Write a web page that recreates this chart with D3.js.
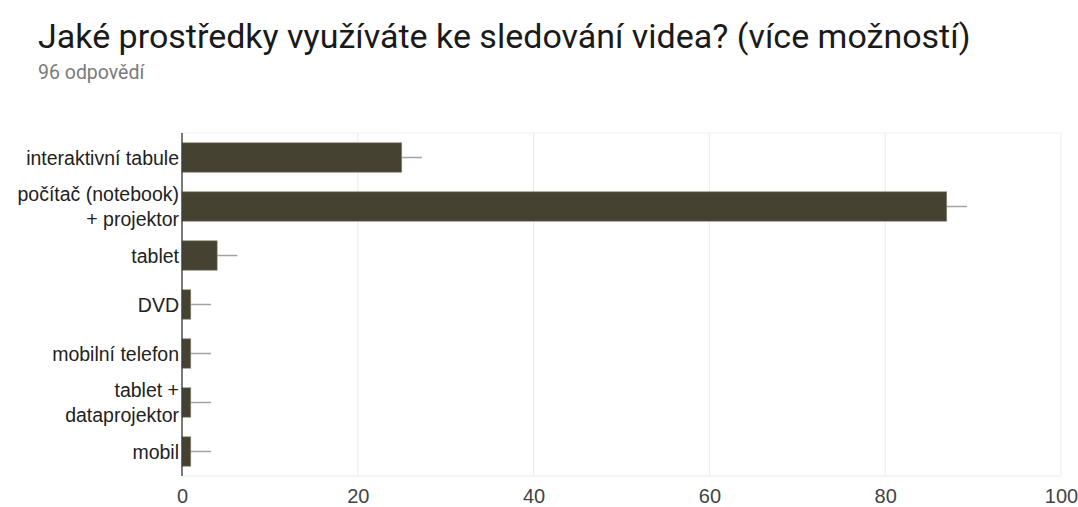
<!DOCTYPE html>
<html lang="cs">
<head>
    <meta charset="UTF-8">
    <title>Sledování videa</title>
    <style>
        body { margin: 0; background: #fff; }
        svg text { font-family: "Liberation Sans", Arial, sans-serif; }
    </style>
    <script src="https://d3js.org/d3.v7.min.js"></script>
</head>
<body>
    <div id="chart"></div>
    <script>
        // data
        const categories = [
            "interaktivní tabule",
            "počítač (notebook)\n+ projektor",
            "tablet",
            "DVD",
            "mobilní telefon",
            "tablet +\ndataprojektor",
            "mobil"
        ]
        const counts = [25, 87, 4, 1, 1, 1, 1]
        const whiskers = [2.3, 2.3, 2.3, 2.3, 2.3, 2.3, 2.3]
        const xTicks = [0, 20, 40, 60, 80, 100]

        const W = 1078, H = 507
        const margin = {top: 133, right: 17, bottom: 31, left: 182}

        const svg = d3.select("#chart").append("svg")
            .attr("width", W).attr("height", H)

        // title + subtitle
        svg.append("text")
            .attr("x", 38).attr("y", 48)
            .style("font-family", "Roboto, sans-serif")
            .style("font-size", "34px")
            .attr("fill", "#1a1a1a")
            .text("Jaké prostředky využíváte ke sledování videa? (více možností)")
        svg.append("text")
            .attr("x", 38).attr("y", 79)
            .style("font-family", "Roboto, sans-serif")
            .style("font-size", "19.5px")
            .attr("fill", "#7a7a7a")
            .text("96 odpovědí")

        const x = d3.scaleLinear()
            .domain([0, 100])
            .range([margin.left, W - margin.right])

        const y = d3.scaleBand()
            .domain(categories)
            .range([margin.top, H - margin.bottom])
            .paddingInner(0.4)
            .paddingOuter(0.2)

        // grid
        svg.append("g")
            .selectAll("line")
            .data(xTicks.slice(1))
            .join("line")
            .attr("x1", d => x(d)).attr("x2", d => x(d))
            .attr("y1", margin.top).attr("y2", H - margin.bottom)
            .attr("stroke", "#ebebeb").attr("stroke-width", 1)
        svg.append("line")
            .attr("x1", margin.left).attr("x2", W - margin.right)
            .attr("y1", margin.top).attr("y2", margin.top)
            .attr("stroke", "#f0f0f0")
        svg.append("line")
            .attr("x1", margin.left).attr("x2", W - margin.right)
            .attr("y1", H - margin.bottom).attr("y2", H - margin.bottom)
            .attr("stroke", "#ebebeb")

        const rows = categories.map((c, i) => ({name: c, value: counts[i], err: whiskers[i]}))

        // whiskers
        svg.append("g")
            .selectAll("line")
            .data(rows)
            .join("line")
            .attr("x1", d => x(d.value)).attr("x2", d => x(d.value + d.err))
            .attr("y1", d => y(d.name) + y.bandwidth() / 2)
            .attr("y2", d => y(d.name) + y.bandwidth() / 2)
            .attr("stroke", "#a3a3a3").attr("stroke-width", 1.5)

        // bars
        svg.append("g")
            .selectAll("rect")
            .data(rows)
            .join("rect")
            .attr("x", x(0))
            .attr("y", d => y(d.name))
            .attr("width", d => x(d.value) - x(0))
            .attr("height", y.bandwidth())
            .attr("fill", "#464231")
            .attr("stroke", "#8a8775").attr("stroke-width", 0.6)

        // left axis line
        svg.append("line")
            .attr("x1", margin.left).attr("x2", margin.left)
            .attr("y1", margin.top).attr("y2", H - margin.bottom)
            .attr("stroke", "#333").attr("stroke-width", 1.3)

        // category labels (multi-line)
        const lab = svg.append("g")
            .selectAll("text")
            .data(rows)
            .join("text")
            .attr("text-anchor", "end")
            .attr("fill", "#222")
            .style("font-size", "19.5px")
        lab.each(function(d) {
            const lines = d.name.split("\n")
            const cy = y(d.name) + y.bandwidth() / 2
            const lh = 25
            const t = d3.select(this)
            lines.forEach((l, i) => {
                t.append("tspan")
                    .attr("x", margin.left - 3)
                    .attr("y", cy + 7 + (i - (lines.length - 1) / 2) * lh)
                    .text(l)
            })
        })

        // x tick labels
        svg.append("g")
            .attr("transform", `translate(0, ${H - margin.bottom})`)
            .call(d3.axisBottom(x).tickValues(xTicks).tickSize(0).tickPadding(13))
            .call(g => g.select(".domain").remove())
            .selectAll("text")
            .style("font-family", "\"Liberation Sans\", Arial, sans-serif")
            .style("font-size", "20px")
            .attr("fill", "#444")
    </script>
</body>
</html>
